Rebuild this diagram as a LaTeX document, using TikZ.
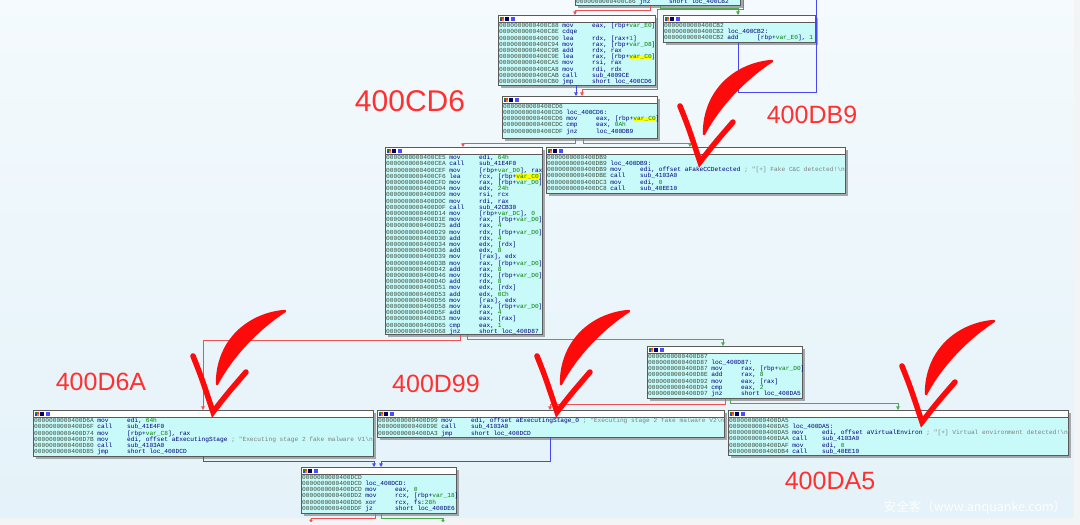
\documentclass[tikz,border=0pt]{standalone}
\usepackage{fontspec}
\setmainfont{Liberation Sans}
\newfontfamily\codefont{Liberation Mono}
\newfontfamily\cjkfont{Noto Sans CJK SC}
\usetikzlibrary{arrows.meta}
\definecolor{bgtop}{HTML}{F4FAFD}
\definecolor{bgbot}{HTML}{E4F2F9}
\definecolor{stripc}{HTML}{F3F4F5}
\definecolor{nodebg}{RGB}{200,250,250}
\definecolor{framec}{HTML}{5A5A5A}
\definecolor{shadowc}{HTML}{A4A8AA}
\definecolor{addrc}{HTML}{3A4A3A}
\definecolor{insc}{HTML}{000080}
\definecolor{numc}{HTML}{008000}
\definecolor{varc}{HTML}{008000}
\definecolor{cmtc}{HTML}{808080}
\definecolor{hlc}{HTML}{FFFF00}
\definecolor{edgered}{HTML}{F05050}
\definecolor{edgegreen}{HTML}{50A850}
\definecolor{edgeblue}{HTML}{4848F0}
\definecolor{markred}{HTML}{FF0A0A}
\definecolor{labred}{HTML}{FF3030}
\newlength\cw \setlength\cw{3.72pt}
\newcommand\IL[3]{\makebox[17\cw][l]{\color{addrc}#1}\makebox[8\cw][l]{\color{insc}#2}{\color{insc}#3}}
\newcommand\Ivar[1]{\textcolor{varc}{#1}}
\newcommand\Inum[1]{\textcolor{numc}{#1}}
\newcommand\Icmt[1]{\textcolor{cmtc}{#1}}
\newcommand\Ihl[1]{{\setlength\fboxsep{0pt}\colorbox{hlc}{\textcolor{varc}{#1}}}}
\tikzset{
  boxframe/.style={draw=framec, line width=0.8pt, fill=nodebg, anchor=north west, inner sep=0pt},
  codetext/.style={anchor=north west, inner sep=0pt, align=left, font=\codefont\fontsize{6.2}{6.2}\selectfont},
  edgebase/.style={line width=0.8pt, -{Triangle[width=3.6pt,length=3.6pt]}},
  redge/.style={edgebase, draw=edgered},
  gedge/.style={edgebase, draw=edgegreen},
  bedge/.style={edgebase, draw=edgeblue},
  lab/.style={text=labred, inner sep=0pt, font=\fontsize{25}{25}\selectfont},
  chk/.pic={
    \filldraw[markred, line width=2.5pt, line join=round]
      (72,-101) .. controls (36,-98) and (4,-72) .. (4,-28)
      .. controls (20,-58) and (46,-84) .. (72,-101) -- cycle;
    \draw[markred, line width=5.5pt, line cap=round, line join=miter]
      (-20,-56) .. controls (-12,-36) .. (0,0) .. controls (14,-18) .. (33,-40);
  }
}
\newcommand\ibox[6]{%
  \fill[shadowc] (#2+3,#3+3) rectangle (#4+3,#5+3);
  \node[boxframe, minimum width={(#4pt)-(#2pt)}, minimum height={(#5pt)-(#3pt)}] (#1) at (#2,#3) {};
  \fill[white] (#2+0.5,#3+0.5) rectangle (#4-0.5,#3+7);
  \draw[framec, line width=0.5pt] (#2,#3+7) -- (#4,#3+7);
  \fill[green!60!black] (#2+1.5,#3+1.5) rectangle ++(2,2);
  \fill[red!80] (#2+3.5,#3+1.5) rectangle ++(2,2);
  \fill[blue!80] (#2+1.5,#3+3.5) rectangle ++(2,2);
  \fill[orange] (#2+3.5,#3+3.5) rectangle ++(2,2);
  \fill[blue!40!black] (#2+7,#3+1.5) rectangle ++(4,4);
  \fill[blue!70] (#2+12.5,#3+1.5) rectangle ++(4,4);
  \begin{scope}
    \clip (#2,#3+7) rectangle (#4,#5);
    \node[codetext] (#1t) at (#2+1,#3+8) {#6};
  \end{scope}}
\begin{document}
\begin{tikzpicture}[x=1pt,y=-1pt]
\useasboundingbox (0,0) rectangle (1080,525);
\clip (0,0) rectangle (1080,525);
\shade[top color=bgtop, bottom color=bgbot] (0,0) rectangle (1080,525);
\fill[stripc] (0,518) rectangle (1080,525);
\fill[stripc] (1074,0) rectangle (1080,525);

% ---------- blocks ----------
\ibox{A}{575}{-9.5}{740}{5}{\IL{0000000000400C86}{jnz}{short loc\_400CB2}}

\ibox{B}{498}{15}{655}{85}{%
\IL{0000000000400C88}{mov}{eax, [rbp+\Ivar{var\_E0}]}\\
\IL{0000000000400C8E}{cdqe}{}\\
\IL{0000000000400C90}{lea}{rdx, [rax+\Inum{1}]}\\
\IL{0000000000400C94}{mov}{rax, [rbp+\Ivar{var\_D8}]}\\
\IL{0000000000400C9B}{add}{rdx, rax}\\
\IL{0000000000400C9E}{lea}{rax, [rbp+\Ihl{var\_C0}]}\\
\IL{0000000000400CA5}{mov}{rsi, rax}\\
\IL{0000000000400CA8}{mov}{rdi, rdx}\\
\IL{0000000000400CAB}{call}{sub\_4009CE}\\
\IL{0000000000400CB0}{jmp}{short loc\_400CD6}}

\ibox{C}{663}{15}{815}{42}{%
\IL{0000000000400CB2}{}{}\\
\IL{0000000000400CB2}{loc\_400CB2:}{}\\
\IL{0000000000400CB2}{add}{[rbp+\Ivar{var\_E0}], \Inum{1}}}

\ibox{D}{502}{96}{657}{138}{%
\IL{0000000000400CD6}{}{}\\
\IL{0000000000400CD6}{loc\_400CD6:}{}\\
\IL{0000000000400CD6}{mov}{eax, [rbp+\Ihl{var\_C0}]}\\
\IL{0000000000400CDC}{cmp}{eax, \Inum{0Ah}}\\
\IL{0000000000400CDF}{jnz}{loc\_400DB9}}

\ibox{E}{385}{147}{542}{334}{%
\IL{0000000000400CE5}{mov}{edi, \Inum{64h}}\\
\IL{0000000000400CEA}{call}{sub\_41E4F0}\\
\IL{0000000000400CEF}{mov}{[rbp+\Ivar{var\_D0}], rax}\\
\IL{0000000000400CF6}{lea}{rcx, [rbp+\Ihl{var\_C0}]}\\
\IL{0000000000400CFD}{mov}{rax, [rbp+\Ivar{var\_D0}]}\\
\IL{0000000000400D04}{mov}{edx, \Inum{24h}}\\
\IL{0000000000400D09}{mov}{rsi, rcx}\\
\IL{0000000000400D0C}{mov}{rdi, rax}\\
\IL{0000000000400D0F}{call}{sub\_42CB30}\\
\IL{0000000000400D14}{mov}{[rbp+\Ivar{var\_DC}], \Inum{0}}\\
\IL{0000000000400D1E}{mov}{rax, [rbp+\Ivar{var\_D0}]}\\
\IL{0000000000400D25}{add}{rax, \Inum{4}}\\
\IL{0000000000400D29}{mov}{rdx, [rbp+\Ivar{var\_D0}]}\\
\IL{0000000000400D30}{add}{rdx, \Inum{4}}\\
\IL{0000000000400D34}{mov}{edx, [rdx]}\\
\IL{0000000000400D36}{add}{edx, \Inum{8}}\\
\IL{0000000000400D39}{mov}{[rax], edx}\\
\IL{0000000000400D3B}{mov}{rax, [rbp+\Ivar{var\_D0}]}\\
\IL{0000000000400D42}{add}{rax, \Inum{8}}\\
\IL{0000000000400D46}{mov}{rdx, [rbp+\Ivar{var\_D0}]}\\
\IL{0000000000400D4D}{add}{rdx, \Inum{8}}\\
\IL{0000000000400D51}{mov}{edx, [rdx]}\\
\IL{0000000000400D53}{add}{edx, \Inum{0Ch}}\\
\IL{0000000000400D56}{mov}{[rax], edx}\\
\IL{0000000000400D58}{mov}{rax, [rbp+\Ivar{var\_D0}]}\\
\IL{0000000000400D5F}{add}{rax, \Inum{4}}\\
\IL{0000000000400D63}{mov}{eax, [rax]}\\
\IL{0000000000400D65}{cmp}{eax, \Inum{1}}\\
\IL{0000000000400D68}{jnz}{short loc\_400D87}}

\ibox{F}{546}{147}{845}{193}{%
\IL{0000000000400DB9}{}{}\\
\IL{0000000000400DB9}{loc\_400DB9:}{}\\
\IL{0000000000400DB9}{mov}{edi, offset aFakeCCDetected \Icmt{; "[+] Fake C\&C detected!\textbackslash n"}}\\
\IL{0000000000400DBE}{call}{sub\_4103A0}\\
\IL{0000000000400DC3}{mov}{edi, \Inum{0}}\\
\IL{0000000000400DC8}{call}{sub\_40EE10}}

\ibox{G}{33}{410}{373}{456}{%
\IL{0000000000400D6A}{mov}{edi, \Inum{64h}}\\
\IL{0000000000400D6F}{call}{sub\_41E4F0}\\
\IL{0000000000400D74}{mov}{[rbp+\Ivar{var\_C8}], rax}\\
\IL{0000000000400D7B}{mov}{edi, offset aExecutingStage \Icmt{; "Executing stage 2 fake malware V1\textbackslash n"}}\\
\IL{0000000000400D80}{call}{sub\_4103A0}\\
\IL{0000000000400D85}{jmp}{short loc\_400DCD}}

\ibox{H}{647}{346}{802}{398}{%
\IL{0000000000400D87}{}{}\\
\IL{0000000000400D87}{loc\_400D87:}{}\\
\IL{0000000000400D87}{mov}{rax, [rbp+\Ivar{var\_D0}]}\\
\IL{0000000000400D8E}{add}{rax, \Inum{8}}\\
\IL{0000000000400D92}{mov}{eax, [rax]}\\
\IL{0000000000400D94}{cmp}{eax, \Inum{2}}\\
\IL{0000000000400D97}{jnz}{short loc\_400DA5}}

\ibox{I}{377}{410}{724}{437}{%
\IL{0000000000400D99}{mov}{edi, offset aExecutingStage\_0 \Icmt{; "Executing stage 2 fake malware V2\textbackslash n"}}\\
\IL{0000000000400D9E}{call}{sub\_4103A0}\\
\IL{0000000000400DA3}{jmp}{short loc\_400DCD}}

\ibox{J}{728}{410}{1068}{455}{%
\IL{0000000000400DA5}{}{}\\
\IL{0000000000400DA5}{loc\_400DA5:}{}\\
\IL{0000000000400DA5}{mov}{edi, offset aVirtualEnviron \Icmt{; "[+] Virtual environment detected!\textbackslash n"}}\\
\IL{0000000000400DAA}{call}{sub\_4103A0}\\
\IL{0000000000400DAF}{mov}{edi, \Inum{0}}\\
\IL{0000000000400DB4}{call}{sub\_40EE10}}

\ibox{K}{301}{467}{456}{513}{%
\IL{0000000000400DCD}{}{}\\
\IL{0000000000400DCD}{loc\_400DCD:}{}\\
\IL{0000000000400DCD}{mov}{eax, \Inum{0}}\\
\IL{0000000000400DD2}{mov}{rcx, [rbp+\Ivar{var\_18}]}\\
\IL{0000000000400DD6}{xor}{rcx, fs:\Inum{28h}}\\
\IL{0000000000400DDF}{jz}{short loc\_400DE6}}

% ---------- free ends ----------
\coordinate (topin) at (743,0);
\coordinate (loopout) at (816,0);
\coordinate (offL) at (311,522);
\coordinate (offR) at (443,522);

% ---------- connectors ----------
\draw[redge] (A.south -| 650,0) |- (575,10) -- (B.north -| 575,0);
\draw[gedge] (A.south -| 660,0) |- (738,8) -- (C.north -| 738,0);
\draw[redge] (topin) |- (657,9) |- (582,89) -- (D.north -| 582,0);
\draw[bedge] (B.south -| 576,0) -- (D.north -| 576,0);
\draw[bedge, -] (C.south -| 738,0) |- (816,92) -- (loopout);
\draw[redge] (D.south -| 575,0) |- (463,143) -- (E.north -| 463,0);
\draw[gedge] (D.south -| 583,0) |- (690,143) -- (F.north -| 690,0);
\draw[redge] (E.south -| 460,0) |- (203,340) -- (G.north -| 203,0);
\draw[gedge] (E.south -| 467,0) |- (723,339) -- (H.north -| 723,0);
\draw[redge] (H.south -| 725,0) |- (550,404) -- (I.north -| 550,0);
\draw[gedge] (H.south -| 730,0) |- (898,403) -- (J.north -| 898,0);
\draw[bedge] (G.south -| 203,0) |- (374,461) -- (K.north -| 374,0);
\draw[bedge] (I.south -| 550,0) |- (381,461) -- (K.north -| 381,0);
\draw[redge, -{Circle[length=3pt]}] (K.south -| 375,0) |- (311,518) -- (offL);
\draw[gedge, -{Circle[length=3pt]}] (K.south -| 381,0) |- (443,518) -- (offR);

% ---------- hand-drawn marks ----------
\pic at (700,162) {chk};
\pic at (213,412) {chk};
\pic at (557,412) {chk};
\pic at (922,422) {chk};

% ---------- labels ----------
\node[lab, font=\fontsize{30}{30}\selectfont] (L1) at (410,101) {400CD6};
\node[lab] (L2) at (812,115) {400DB9};
\node[lab] (L3) at (101,382) {400D6A};
\node[lab] (L4) at (436,384) {400D99};
\node[lab] (L5) at (830,481) {400DA5};

\node[text=white, opacity=0.92, inner sep=0pt, font=\cjkfont\fontsize{12.5}{12.5}\selectfont] (wm) at (975,508) {安全客（www.anquanke.com）};
\end{tikzpicture}
\end{document}
